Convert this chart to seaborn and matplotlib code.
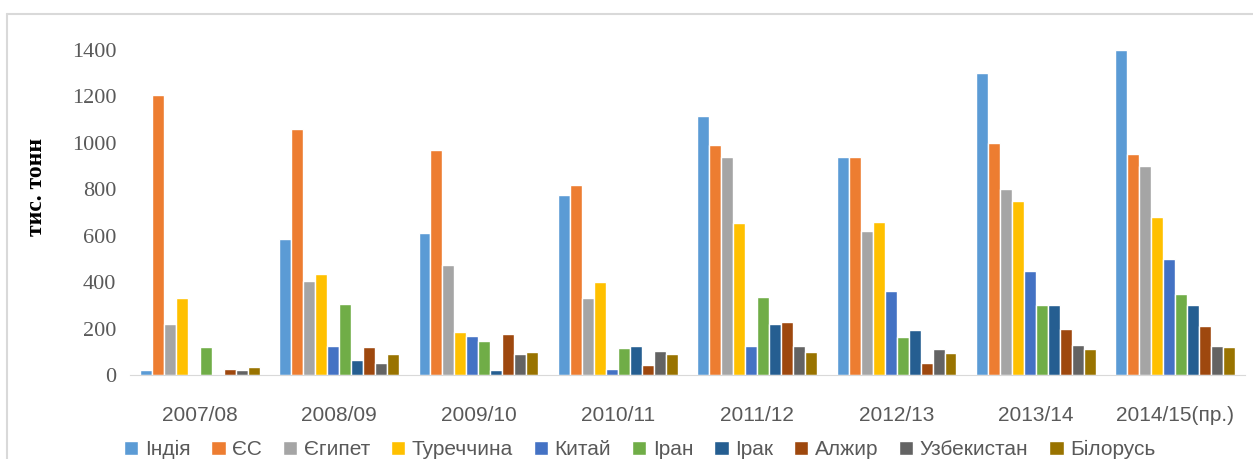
import pandas as pd
import numpy as np
import matplotlib.pyplot as plt
import seaborn as sns
from matplotlib.lines import Line2D

# seasons and importers
seasons = ['2007/08', '2008/09', '2009/10', '2010/11', '2011/12', '2012/13', '2013/14', '2014/15(пр.)']
countries = ['Індія', 'ЄС', 'Єгипет', 'Туреччина', 'Китай', 'Іран', 'Ірак', 'Алжир', 'Узбекистан', 'Білорусь']

# values, тис. тонн
india = [20, 585, 610, 775, 1115, 940, 1300, 1400]
eu = [1205, 1060, 970, 820, 990, 940, 1000, 950]
egypt = [220, 405, 475, 330, 940, 620, 800, 900]
turkey = [330, 435, 185, 400, 655, 660, 750, 680]
china = [0, 125, 170, 25, 125, 360, 450, 500]
iran = [120, 305, 145, 115, 335, 165, 300, 350]
iraq = [0, 65, 20, 125, 220, 195, 300, 300]
algeria = [25, 120, 175, 45, 230, 50, 200, 210]
uzbekistan = [20, 50, 90, 105, 125, 110, 130, 125]
belarus = [35, 90, 100, 90, 100, 95, 110, 120]

colors = ['#5B9BD5', '#ED7D31', '#A5A5A5', '#FFC000', '#4472C4',
          '#70AD47', '#255E91', '#9E480E', '#636363', '#997300']

series = [india, eu, egypt, turkey, china, iran, iraq, algeria, uzbekistan, belarus]
rows = []
for name, vals in zip(countries, series):
    for s, v in zip(seasons, vals):
        rows.append({'season': s, 'country': name, 'value': v})
df = pd.DataFrame(rows)

sns.set_style('white')
plt.rcParams['font.family'] = ['Liberation Sans', 'DejaVu Sans']

fig = plt.figure(figsize=(12.53, 4.59), dpi=100)
ax = fig.add_axes([130 / 1253, 84 / 459, 1115 / 1253, 325 / 459])

sns.barplot(data=df, x='season', y='value', hue='country', order=seasons,
            hue_order=countries, palette=colors, width=0.86, saturation=1,
            edgecolor='white', linewidth=1, ax=ax)

ax.set_ylim(0, 1400)
ax.set_xlim(-0.5, len(seasons) - 0.5)
ax.set_yticks(range(0, 1401, 200))
ax.set_yticklabels([str(t) for t in range(0, 1401, 200)],
                   family=['Liberation Serif', 'DejaVu Serif'], fontsize=16, color='#595959')
ax.tick_params(axis='x', labelsize=15, labelcolor='#595959', length=0, pad=22)
ax.tick_params(axis='y', length=0, pad=10)
ax.set_xlabel('')
ax.set_ylabel('тис. тонн', family=['Liberation Serif', 'DejaVu Serif'],
              fontsize=17, fontweight='bold', color='black')
ax.yaxis.set_label_coords(-0.074, 0.578)

for side in ['top', 'right', 'left']:
    ax.spines[side].set_visible(False)
ax.spines['bottom'].set_color('#D9D9D9')

ax.legend(loc='upper center', bbox_to_anchor=(0.457, -0.175), ncol=10, frameon=False,
          prop={'family': ['Liberation Sans Narrow', 'Liberation Sans', 'DejaVu Sans'], 'size': 15},
          handlelength=0.7, handleheight=0.7, handletextpad=0.3, columnspacing=1.0,
          labelcolor='#595959', borderaxespad=0)

# chart area border
fig.add_artist(Line2D([7 / 1253, 1], [1 - 14 / 459, 1 - 14 / 459], color='#D9D9D9', lw=1.5))
fig.add_artist(Line2D([7 / 1253, 7 / 1253], [0, 1 - 14 / 459], color='#D9D9D9', lw=1.5))

fig.savefig('out.png', dpi=100)
